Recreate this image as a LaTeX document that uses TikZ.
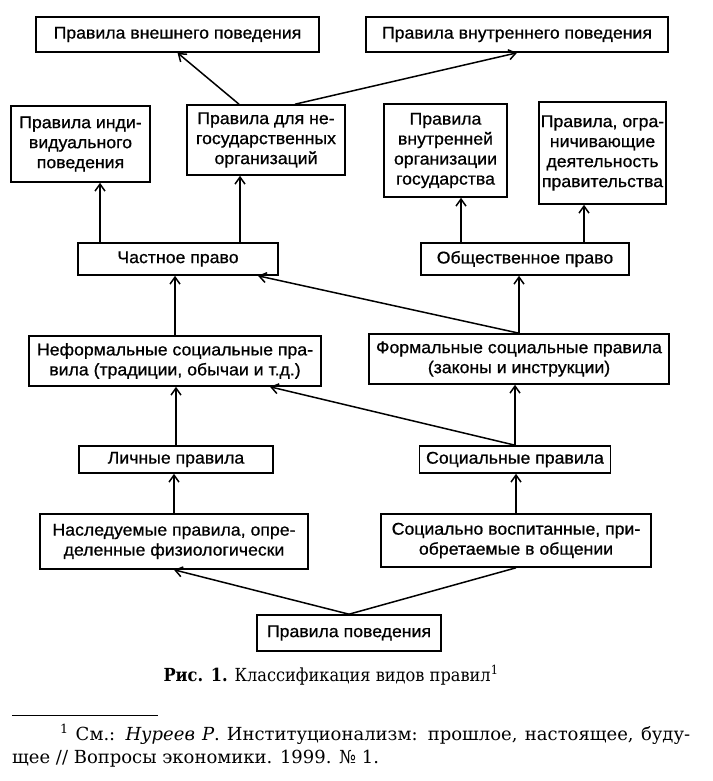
\documentclass[tikz,border=0pt]{standalone}
\usepackage{fontspec}
\setmainfont{Liberation Sans}
\newfontfamily\boxsans{Liberation Sans}[FakeStretch=1.04, FakeBold=0.8]
\newfontfamily\capserif{DejaVu Serif}
\newfontfamily\capnarrow{DejaVu Serif}[FakeStretch=0.9]
\usetikzlibrary{arrows.meta}

\tikzset{
  rulebox/.style={draw, line width=1.6pt, inner sep=0pt, align=center,
    font=\boxsans\fontsize{17}{20}\selectfont},
  arr/.style={-{Straight Barb[length=7pt,width=10pt,line width=1.5pt]}, line width=1.5pt},
  plain/.style={line width=1.5pt}
}

\begin{document}
\begin{tikzpicture}[x=1pt,y=-1pt]
  \useasboundingbox (0,0) rectangle (712,781);

  % top row
  \node[rulebox, minimum width=283pt, minimum height=35pt] (outer) at (177.5,34.5)
    {Правила внешнего поведения};
  \node[rulebox, minimum width=302pt, minimum height=35pt] (inner) at (517,34.5)
    {Правила внутреннего поведения};

  % second row
  \node[rulebox, minimum width=139pt, minimum height=76pt] (indiv) at (80.5,144)
    {Правила инди-\\видуального\\поведения};
  \node[rulebox, minimum width=158pt, minimum height=70pt] (nongov) at (266,140)
    {Правила для не-\\государственных\\организаций};
  \node[rulebox, minimum width=123pt, minimum height=93pt] (stateorg) at (445.5,150.5)
    {Правила\\внутренней\\организации\\государства};
  \node[rulebox, minimum width=127pt, minimum height=102pt] (govlimit) at (602.5,153)
    {Правила, огра-\\ничивающие\\деятельность\\правительства};

  % law
  \node[rulebox, minimum width=200pt, minimum height=32pt] (private) at (178,259)
    {Частное право};
  \node[rulebox, minimum width=208pt, minimum height=32pt] (public) at (525,259)
    {Общественное право};

  % social rules
  \node[rulebox, minimum width=292pt, minimum height=50pt] (informal) at (175,361)
    {Неформальные социальные пра-\\вила (традиции, обычаи и т.д.)};
  \node[rulebox, minimum width=300pt, minimum height=50pt] (formal) at (519,359)
    {Формальные социальные правила\\(законы и инструкции)};

  \node[rulebox, minimum width=194pt, minimum height=27pt] (personal) at (176,459.5)
    {Личные правила};
  \node[rulebox, minimum width=191pt, minimum height=27pt] (social) at (515,459.5)
    {Социальные правила};

  \node[rulebox, minimum width=268pt, minimum height=55pt] (inherited) at (174,541.5)
    {Наследуемые правила, опре-\\деленные физиологически};
  \node[rulebox, minimum width=270pt, minimum height=53pt] (acquired) at (516,540.5)
    {Социально воспитанные, при-\\обретаемые в общении};

  % root
  \node[rulebox, minimum width=184pt, minimum height=36pt] (behavior) at (349,633)
    {Правила поведения};

  % arrows out of private law
  \coordinate (pl1) at ([xshift=-78pt]private.north);
  \coordinate (pl2) at ([xshift=62pt]private.north);
  \draw[arr] (pl1) -- (pl1 |- indiv.south);
  \draw[arr] (pl2) -- (pl2 |- nongov.south);

  % arrows out of non-state rules
  \coordinate (ng1) at ([xshift=-27pt]nongov.north);
  \coordinate (ng2) at ([xshift=29pt]nongov.north);
  \draw[arr] (ng1) -- (outer.south);
  \draw[arr] (ng2) -- (inner.south);

  % arrows out of public law
  \coordinate (pb1) at ([xshift=-64pt]public.north);
  \coordinate (pb2) at ([xshift=59pt]public.north);
  \draw[arr] (pb1) -- (pb1 |- stateorg.south);
  \draw[arr] (pb2) -- (pb2 |- govlimit.south);

  % informal and formal
  \draw[arr] (informal.north) -- (informal.north |- private.south);
  \draw[arr] (formal.north) -- (formal.north |- public.south);
  \draw[arr] (formal.north) -- ([xshift=80pt]private.south);

  % personal and social
  \draw[arr] (personal.north) -- (personal.north |- informal.south);
  \draw[arr] (social.north) -- (social.north |- formal.south);
  \draw[arr] (social.north) -- ([xshift=95pt]informal.south);

  \draw[arr] (inherited.north) -- (inherited.north |- personal.south);
  \draw[arr] (acquired.north) -- (acquired.north |- social.south);

  % root
  \draw[arr] (behavior.north) -- (inherited.south);
  \draw[plain] (behavior.north) -- (acquired.south);

  % caption
  \node[font=\capnarrow\fontsize{18}{21}\selectfont, anchor=base] (caption) at (331,681)
    {\textbf{Рис. 1.} Классификация видов правил\textsuperscript{1}};

  % footnote
  \draw[line width=1pt] (12,715) -- (158,715);
  \node[font=\capserif\fontsize{18}{21}\selectfont, anchor=base west, inner sep=0pt]
    (foot1) at (60,740)
    {\makebox[630pt][s]{\textsuperscript{1} См.: \textit{Нуреев Р}. Институционализм: прошлое, настоящее, буду-}};
  \node[font=\capserif\fontsize{18}{21}\selectfont, anchor=base west, inner sep=0pt]
    (foot2) at (12,763)
    {щее // Вопросы экономики. 1999. № 1.};
\end{tikzpicture}
\end{document}
